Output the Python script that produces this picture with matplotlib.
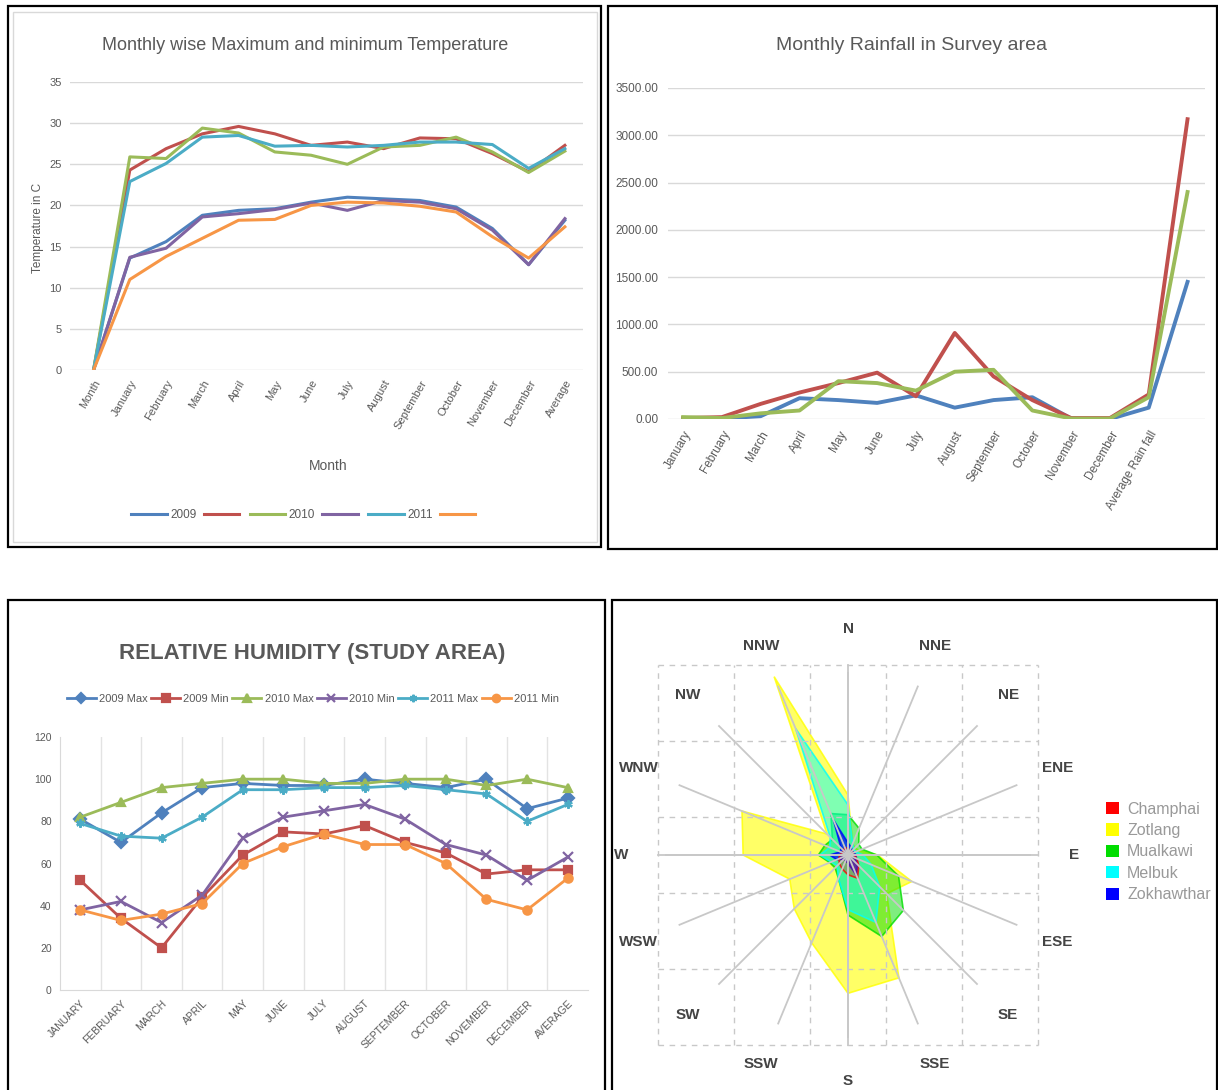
import numpy as np
import matplotlib.pyplot as plt
from matplotlib.patches import Rectangle, Patch

plt.rcParams['font.family'] = ['Liberation Sans', 'DejaVu Sans']

# ---- temperature (top left) ----
t_months = ['Month', 'January', 'February', 'March', 'April', 'May', 'June', 'July',
            'August', 'September', 'October', 'November', 'December', 'Average']
t_blue = [0, 13.6, 15.6, 18.8, 19.4, 19.6, 20.4, 21.0, 20.8, 20.6, 19.8, 17.2, 12.8, 18.2]
t_red = [0, 24.3, 26.9, 28.7, 29.6, 28.7, 27.3, 27.7, 26.9, 28.2, 28.1, 26.3, 24.1, 27.3]
t_green = [0, 25.9, 25.7, 29.4, 28.8, 26.5, 26.1, 25.0, 27.1, 27.3, 28.3, 26.5, 24.0, 26.6]
t_purple = [0, 13.7, 14.8, 18.6, 19.0, 19.5, 20.3, 19.4, 20.6, 20.4, 19.6, 17.0, 12.8, 18.4]
t_cyan = [0, 22.9, 25.1, 28.3, 28.5, 27.2, 27.3, 27.1, 27.3, 27.7, 27.7, 27.4, 24.5, 26.9]
t_orange = [0, 11.0, 13.8, 16.0, 18.2, 18.3, 20.0, 20.4, 20.3, 19.9, 19.2, 16.2, 13.6, 17.4]
t_labels = ['2009', '', '2010', '', '2011', '']

# ---- rainfall (top right) ----
r_months = ['January', 'February', 'March', 'April', 'May', 'June', 'July', 'August',
            'September', 'October', 'November', 'December', 'Average Rain fall', '']
r_blue = [0, 5, 30, 220, 200, 170, 250, 120, 200, 230, 5, 0, 120, 1450]
r_red = [10, 20, 160, 280, 380, 490, 240, 910, 450, 200, 10, 10, 260, 3170]
r_green = [20, 10, 60, 90, 400, 380, 300, 500, 520, 90, 5, 5, 230, 2400]

# ---- relative humidity (bottom left) ----
h_months = ['JANUARY', 'FEBRUARY', 'MARCH', 'APRIL', 'MAY', 'JUNE', 'JULY', 'AUGUST',
            'SEPTEMBER', 'OCTOBER', 'NOVEMBER', 'DECEMBER', 'AVERAGE']
h_2009_max = [81, 70, 84, 96, 98, 97, 97, 100, 98, 96, 100, 86, 91]
h_2009_min = [52, 34, 20, 44, 64, 75, 74, 78, 70, 65, 55, 57, 57]
h_2010_max = [82, 89, 96, 98, 100, 100, 98, 98, 100, 100, 97, 100, 96]
h_2010_min = [38, 42, 32, 45, 72, 82, 85, 88, 81, 69, 64, 52, 63]
h_2011_max = [79, 73, 72, 82, 95, 95, 96, 96, 97, 95, 93, 80, 88]
h_2011_min = [38, 33, 36, 41, 60, 68, 74, 69, 69, 60, 43, 38, 53]
h_names = ['2009 Max', '2009 Min', '2010 Max', '2010 Min', '2011 Max', '2011 Min']

# ---- wind rose (bottom right) ----
directions = ['N', 'NNE', 'NE', 'ENE', 'E', 'ESE', 'SE', 'SSE',
              'S', 'SSW', 'SW', 'WSW', 'W', 'WNW', 'NW', 'NNW']
zotlang = [7.9, 1.6, 1.3, 1.6, 3.9, 9.1, 7.2, 17.5, 18.2, 12.5, 10.0, 8.3, 13.8, 15.1, 3.9, 25.4]
mualkawi = [5.3, 3.8, 2.0, 2.0, 3.8, 7.2, 10.3, 11.6, 7.9, 3.3, 2.4, 2.6, 3.9, 3.3, 2.9, 5.9]
melbuk = [6.6, 1.6, 1.1, 1.1, 2.0, 3.3, 5.9, 9.6, 7.2, 3.3, 2.0, 2.4, 3.7, 2.6, 3.3, 18.0]
zokhawthar = [1.6, 1.1, 0.8, 0.8, 1.1, 1.1, 1.8, 2.9, 1.1, 0.8, 0.8, 1.6, 2.4, 1.1, 1.3, 5.0]
champhai = [0.8, 0.7, 0.7, 0.7, 0.8, 1.3, 2.0, 3.3, 2.6, 2.0, 1.6, 1.3, 1.1, 0.8, 0.8, 1.1]

W, H = 1218, 1090


def box(x0, y0, x1, y1):
    return [x0 / W, 1 - y1 / H, (x1 - x0) / W, (y1 - y0) / H]


fig = plt.figure(figsize=(12.18, 10.9), dpi=100)

for x0, y0, x1, y1 in [(8, 6, 601, 547), (608, 6, 1217, 549), (8, 600, 605, 1096), (612, 600, 1217, 1096)]:
    fig.add_artist(Rectangle((x0 / W, 1 - y1 / H), (x1 - x0) / W, (y1 - y0) / H,
                             transform=fig.transFigure, fill=False, ec='black', lw=1.6))
fig.add_artist(Rectangle((13 / W, 1 - 542 / H), 584 / W, 530 / H, transform=fig.transFigure,
                         fill=False, ec='#d9d9d9', lw=1))

grey = '#595959'
xl = ['#4F81BD', '#C0504D', '#9BBB59', '#8064A2', '#4BACC6', '#F79646']

# temperature
ax1 = fig.add_axes(box(70, 82, 583, 370))
x = np.arange(len(t_months))
handles = []
for vals, c in zip([t_blue, t_red, t_green, t_purple, t_cyan, t_orange], xl):
    handles += ax1.plot(x, vals, color=c, lw=2.2)
ax1.set_ylim(0, 35)
ax1.set_yticks(range(0, 36, 5))
ax1.set_xlim(-0.65, 13.5)
ax1.set_xticks(x)
ax1.set_xticklabels(t_months, rotation=60, ha='right', rotation_mode='anchor')
ax1.grid(axis='y', color='#d9d9d9', lw=1)
ax1.set_axisbelow(True)
for s in ax1.spines.values():
    s.set_visible(False)
ax1.tick_params(length=0, labelsize=8, colors=grey, pad=6)
fig.text(305 / W, 1 - 45 / H, 'Monthly wise Maximum and minimum Temperature',
         ha='center', va='center', fontsize=13, color=grey)
fig.text(38 / W, 1 - 228 / H, 'Temperature in C', rotation=90, ha='center', va='center',
         fontsize=8.5, color=grey)
fig.text(328 / W, 1 - 466 / H, 'Month', ha='center', va='center', fontsize=10, color=grey)
fig.legend(handles, t_labels, loc='center', ncol=6, frameon=False, fontsize=8.5,
           labelcolor=grey, bbox_to_anchor=(305 / W, 1 - 515 / H), handlelength=3,
           columnspacing=0.6, handletextpad=0.3)

# rainfall
ax2 = fig.add_axes(box(668, 88, 1205, 419))
x = np.arange(len(r_months))
for vals, c in zip([r_blue, r_red, r_green], xl[:3]):
    ax2.plot(x, vals, color=c, lw=2.8)
ax2.set_ylim(0, 3500)
ax2.set_yticks(range(0, 3501, 500))
ax2.set_yticklabels([f'{v:.2f}' for v in range(0, 3501, 500)])
ax2.set_xlim(-0.39, 13.45)
ax2.set_xticks(x)
ax2.set_xticklabels(r_months, rotation=60, ha='right', rotation_mode='anchor')
ax2.grid(axis='y', color='#d9d9d9', lw=1)
ax2.set_axisbelow(True)
for s in ax2.spines.values():
    s.set_visible(False)
ax2.tick_params(length=0, labelsize=8.5, colors=grey, pad=7)
fig.text(912 / W, 1 - 45 / H, 'Monthly Rainfall in Survey area', ha='center', va='center',
         fontsize=14, color=grey)

# humidity
ax3 = fig.add_axes(box(60, 737, 588, 990))
x = np.arange(len(h_months))
markers = ['D', 's', '^', 'x', (6, 2, 0), 'o']
hh = []
for vals, c, m, n in zip([h_2009_max, h_2009_min, h_2010_max, h_2010_min, h_2011_max, h_2011_min],
                         xl, markers, h_names):
    hh += ax3.plot(x, vals, color=c, lw=2, marker=m, ms=6 if m != 'x' else 7, mew=1.6, label=n)
ax3.set_ylim(0, 120)
ax3.set_yticks(range(0, 121, 20))
ax3.set_xlim(-0.5, 12.5)
ax3.set_xticks(x)
ax3.set_xticklabels(h_months, rotation=45, ha='right', rotation_mode='anchor')
ax3.set_xticks(x[:-1] + 0.5, minor=True)
ax3.grid(axis='x', which='minor', color='#e3e3e3', lw=1)
ax3.set_axisbelow(True)
for k in ['top', 'right']:
    ax3.spines[k].set_visible(False)
for k in ['left', 'bottom']:
    ax3.spines[k].set_color('#d9d9d9')
ax3.tick_params(which='both', length=0, labelsize=7.5, colors=grey, pad=6)
fig.text(312 / W, 1 - 653 / H, 'RELATIVE HUMIDITY (STUDY AREA)', ha='center', va='center',
         fontsize=16, color='#595959', fontweight='bold')
fig.legend(hh, h_names, loc='center', ncol=6, frameon=False, fontsize=8, labelcolor=grey,
           bbox_to_anchor=(313 / W, 1 - 699 / H), handlelength=2.6, columnspacing=0.3,
           handletextpad=0.3, markerscale=0.9)

# wind rose
ax4 = fig.add_axes(box(613, 601, 1216, 1089))
ax4.set_xlim((613 - 848) / 7.6, (1216 - 848) / 7.6)
ax4.set_ylim((855 - 1089) / 7.6, (855 - 601) / 7.6)
ax4.axis('off')
ang = np.deg2rad(np.arange(16) * 22.5)
for g in [-25, -15, -5, 5, 15, 25]:
    ax4.plot([g, g], [-25, 25], color='#c8c8c8', lw=1, ls=(0, (4, 4)))
    ax4.plot([-25, 25], [g, g], color='#c8c8c8', lw=1, ls=(0, (4, 4)))
ax4.plot([0, 0], [-25, 25], color='#c8c8c8', lw=1.3)
ax4.plot([-25, 25], [0, 0], color='#c8c8c8', lw=1.3)
for a in ang:
    ax4.plot([0, 24 * np.sin(a)], [0, 24 * np.cos(a)], color='#c8c8c8', lw=1.3)
for a, d in zip(ang, directions):
    ax4.text(29.8 * np.sin(a), 29.8 * np.cos(a), d, ha='center', va='center', fontsize=11,
             fontweight='bold', color='#444444')
rose = [(zotlang, '#ffff00', 0.6), (mualkawi, '#00dd00', 0.5), (melbuk, '#00ffff', 0.5),
        (zokhawthar, '#0000ff', 0.7), (champhai, '#ff0000', 0.3)]
for vals, c, al in rose:
    v = np.array(vals)
    ax4.fill(v * np.sin(ang), v * np.cos(ang), color=c, alpha=al, lw=0)
    ax4.fill(v * np.sin(ang), v * np.cos(ang), fc='none', ec=c, alpha=0.8, lw=1.2)
rh = [Patch(fc=c, ec='none') for c in ['#ff0000', '#ffff00', '#00dd00', '#00ffff', '#0000ff']]
fig.legend(rh, ['Champhai', 'Zotlang', 'Mualkawi', 'Melbuk', 'Zokhawthar'], loc='center left',
           bbox_to_anchor=(1092 / W, 1 - 852 / H), frameon=False, fontsize=11.5,
           labelcolor='#999999', handlelength=0.8, handleheight=0.8, handletextpad=0.5,
           labelspacing=0.4)

fig.savefig('out.png', dpi=100)
